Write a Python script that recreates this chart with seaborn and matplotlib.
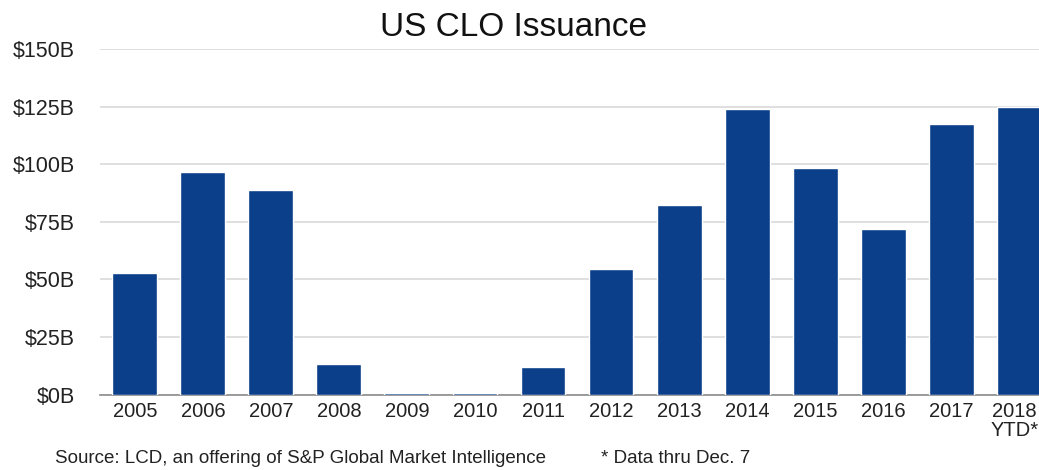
import pandas as pd
import matplotlib
matplotlib.use("Agg")
import matplotlib.pyplot as plt
import matplotlib.transforms as mtransforms
import seaborn as sns

# Annual US CLO issuance, $ billions
years = ["2005", "2006", "2007", "2008", "2009", "2010", "2011",
         "2012", "2013", "2014", "2015", "2016", "2017", "2018\nYTD*"]
issuance = [52.9, 96.6, 88.8, 13.4, 0.7, 0.9, 12.1,
            54.6, 82.3, 123.9, 98.4, 71.9, 117.4, 124.8]
y_ticks = [0, 25, 50, 75, 100, 125, 150]

df = pd.DataFrame({"year": years, "issuance": issuance})

sns.set_style("white")
plt.rcParams["font.family"] = ["Liberation Sans", "DejaVu Sans"]

fig = plt.figure(figsize=(10.39, 4.70), dpi=100)
ax = fig.add_axes([0.096, 0.160, 0.904, 0.736])

sns.barplot(data=df, x="year", y="issuance", color="#0B3F8A",
            saturation=1, width=0.66, ax=ax, zorder=3)

ax.set_ylim(0, 150)
ax.set_xlim(-0.515, 13.29)
ax.set_yticks(y_ticks)
ax.set_yticklabels([f"${v}B" for v in y_ticks])
ax.yaxis.grid(True, color="#D9D9D9", linewidth=1.2, zorder=0)
ax.tick_params(axis="y", length=0, pad=18, labelsize=15.5, labelcolor="#222222")
ax.tick_params(axis="x", length=0, pad=5, labelsize=14.5, labelcolor="#222222")
xlabels = ax.get_xticklabels()
for lbl in xlabels:
    lbl.set_linespacing(1.0)
# nudge the last label so it stays inside the figure edge
last = xlabels[-1]
last.set_transform(last.get_transform() +
                   mtransforms.ScaledTranslation(-5 / 100, 0, fig.dpi_scale_trans))
ax.set_xlabel("")
ax.set_ylabel("")

for side in ["top", "right", "left"]:
    ax.spines[side].set_visible(False)
ax.spines["bottom"].set_color("#8C8C8C")
ax.spines["bottom"].set_linewidth(1.2)

fig.text(0.494, 0.941, "US CLO Issuance", ha="center", va="center",
         fontsize=24, color="#111111")
fig.text(0.053, 0.024, "Source: LCD, an offering of S&P Global Market Intelligence",
         ha="left", va="center", fontsize=13.5, color="#222222")
fig.text(0.578, 0.024, "* Data thru Dec. 7",
         ha="left", va="center", fontsize=13.5, color="#222222")

fig.savefig("out.png", dpi=100)
